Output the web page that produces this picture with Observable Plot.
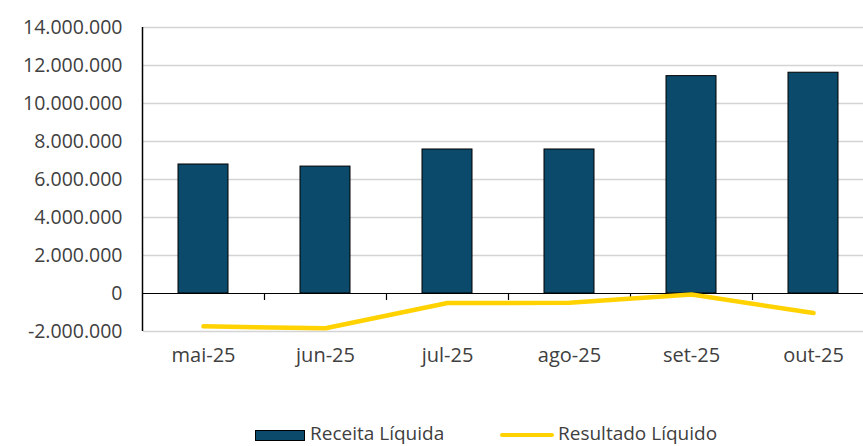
<!DOCTYPE html>
<html><head><meta charset="utf-8">
<script src="https://cdn.jsdelivr.net/npm/d3@7"></script>
<script src="https://cdn.jsdelivr.net/npm/@observablehq/plot@0.6"></script>
<style>
html,body{margin:0;padding:0;background:#fff;overflow:hidden;width:863px;height:446px;}
#chart{position:absolute;left:0;top:0;}
.legend{position:absolute;top:422px;left:0;width:863px;height:24px;font-family:"Open Sans",sans-serif;font-size:19px;line-height:22px;color:#404040;}
.legend .sw1{position:absolute;left:255px;top:8px;width:48px;height:9px;background:#0b4a6b;border:1px solid #000;}
.legend .t1{position:absolute;left:310px;top:0px;}
.legend .sw2{position:absolute;left:500px;top:11px;width:54px;height:4px;background:#ffd200;border-radius:2px;}
.legend .t2{position:absolute;left:558px;top:0px;}
</style></head>
<body>
<div id="chart"></div>
<div class="legend"><div class="sw1"></div><div class="t1">Receita Líquida</div><div class="sw2"></div><div class="t2">Resultado Líquido</div></div>
<script>
const months = ["mai-25","jun-25","jul-25","ago-25","set-25","out-25"];
const receita = [6790000, 6680000, 7580000, 7580000, 11440000, 11620000];
const resultado = [-1730000, -1830000, -500000, -490000, -50000, -1030000];
const yTicks = [-2000000, 0, 2000000, 4000000, 6000000, 8000000, 10000000, 12000000, 14000000];

const rows = months.map((m, i) => ({month: m, receita: receita[i], resultado: resultado[i]}));
const fmt = d3.formatLocale({decimal: ",", thousands: ".", grouping: [3], currency: ["R$", ""], minus: "-"}).format(",.0f");
const gridTicks = yTicks.filter(v => v !== 0);

const chart = Plot.plot({
  width: 863,
  height: 415,
  marginTop: 27,
  marginBottom: 84,
  marginLeft: 143,
  marginRight: 0,
  style: {fontFamily: "'Open Sans', sans-serif", fontSize: "19.5px", color: "#404040", background: "#fff"},
  x: {domain: months, range: [142, 874], paddingInner: 0.59, paddingOuter: 0.295, align: 0.5, label: null},
  y: {domain: [-2000000, 14000000], label: null},
  marks: [
    Plot.ruleY(gridTicks, {stroke: "#d4d4d4", strokeWidth: 1.5}),
    Plot.axisY({ticks: yTicks, tickFormat: fmt, tickSize: 0, tickPadding: 21, fill: "#404040", fontSize: 19.5}),
    Plot.axisX({tickSize: 0, tickPadding: 16, fill: "#404040", fontSize: 20, anchor: "bottom"}),
    Plot.barY(rows, {x: "month", y: "receita", fill: "#0b4a6b", stroke: "#000", strokeWidth: 1}),
    Plot.ruleY([0], {stroke: "#000", strokeWidth: 1.2}),
    Plot.ruleX(months, {x: d => d, dx: 61, y1: 0, y2: 0, insetBottom: -7, stroke: "#000", strokeWidth: 1.2}),
    Plot.ruleX(months.slice(0, 1), {x: d => d, dx: -61, y1: -2000000, y2: 14000000, stroke: "#000", strokeWidth: 1.5}),
    Plot.lineY(rows, {x: "month", y: "resultado", stroke: "#ffd200", strokeWidth: 4.5, strokeLinecap: "round", strokeLinejoin: "round"})
  ]
});
document.getElementById("chart").appendChild(chart);
</script>
</body></html>
